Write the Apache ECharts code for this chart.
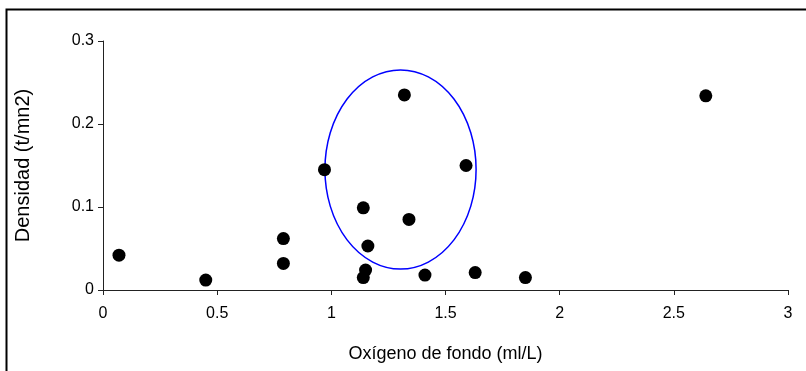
<!DOCTYPE html>
<html lang="es">
<head>
    <meta charset="UTF-8">
    <script src="https://cdn.jsdelivr.net/npm/echarts@6/dist/echarts.min.js"></script>
    <title>Densidad vs oxigeno</title>
</head>
<style>
    body{
        margin: 0;
        padding: 0;
        background: #fff;
    }
</style>
<body>
<div id="main" style="width: 806px;height:371px;"></div>
</body>
<script>
    // oxigeno de fondo (ml/L)
    var oxigeno = [0.07, 0.45, 0.79, 0.79, 0.97, 1.14, 1.16, 1.15, 1.14, 1.32, 1.34, 1.41, 1.59, 1.63, 1.85, 2.64];
    // densidad (t/mn2)
    var densidad = [0.042, 0.012, 0.062, 0.032, 0.145, 0.099, 0.053, 0.024, 0.015, 0.235, 0.085, 0.018, 0.150, 0.021, 0.015, 0.234];
    // elipse: centro x, centro y, radio x, radio y (unidades de los ejes)
    var elipse = [1.303, 0.1452, 0.331, 0.12];
    var xTicks = [0, 0.5, 1, 1.5, 2, 2.5, 3];
    var yTicks = [0, 0.1, 0.2, 0.3];

    var puntos = [];
    for (var i = 0; i < oxigeno.length; i++) {
        puntos.push([oxigeno[i], densidad[i]]);
    }

    var fuente = 'Liberation Sans, Arial, sans-serif';
    var chart = echarts.init(document.getElementById('main'));
    var option = {
        animation: false,
        backgroundColor: '#fff',
        textStyle: {fontFamily: fuente},
        graphic: [{
            type: 'rect',
            left: 4, top: 7,
            shape: {width: 900, height: 500},
            style: {fill: null, stroke: '#000', lineWidth: 2},
            silent: true
        }],
        grid: {left: 103, right: 18, top: 41, bottom: 81},
        xAxis: {
            type: 'value',
            min: xTicks[0], max: xTicks[xTicks.length - 1], interval: 0.5,
            name: 'Oxígeno de fondo (ml/L)',
            nameLocation: 'middle',
            nameGap: 55,
            nameTextStyle: {fontSize: 18, color: '#000', fontFamily: fuente},
            axisLine: {lineStyle: {color: '#222', width: 1}},
            axisTick: {show: true, length: 5, inside: false, lineStyle: {color: '#222'}},
            axisLabel: {fontSize: 16, color: '#000', margin: 16, fontFamily: fuente},
            splitLine: {show: false}
        },
        yAxis: {
            type: 'value',
            min: yTicks[0], max: yTicks[yTicks.length - 1], interval: 0.1,
            name: 'Densidad (t/mn2)',
            nameLocation: 'middle',
            nameGap: 70,
            nameTextStyle: {fontSize: 20, color: '#000', fontFamily: fuente},
            axisLine: {show: true, lineStyle: {color: '#222', width: 1}},
            axisTick: {show: true, length: 5, lineStyle: {color: '#222'}},
            axisLabel: {fontSize: 16, color: '#000', margin: 9, fontFamily: fuente},
            splitLine: {show: false}
        },
        series: [{
            type: 'custom',
            data: [elipse],
            z: 1,
            silent: true,
            renderItem: function (params, api) {
                var c = api.coord([api.value(0), api.value(1)]);
                var s = api.size([api.value(2), api.value(3)]);
                var rx = s[0], ry = s[1];
                var d = 'M ' + (c[0] - rx) + ' ' + c[1] +
                    ' A ' + rx + ' ' + ry + ' 0 1 0 ' + (c[0] + rx) + ' ' + c[1] +
                    ' A ' + rx + ' ' + ry + ' 0 1 0 ' + (c[0] - rx) + ' ' + c[1] + ' Z';
                return {
                    type: 'path',
                    shape: {pathData: d},
                    style: {fill: null, stroke: '#0000ff', lineWidth: 1.5}
                };
            }
        }, {
            type: 'scatter',
            data: puntos,
            z: 3,
            symbol: 'circle',
            symbolSize: 13,
            itemStyle: {color: '#000', opacity: 1}
        }]
    };
    chart.setOption(option);
</script>
</html>
